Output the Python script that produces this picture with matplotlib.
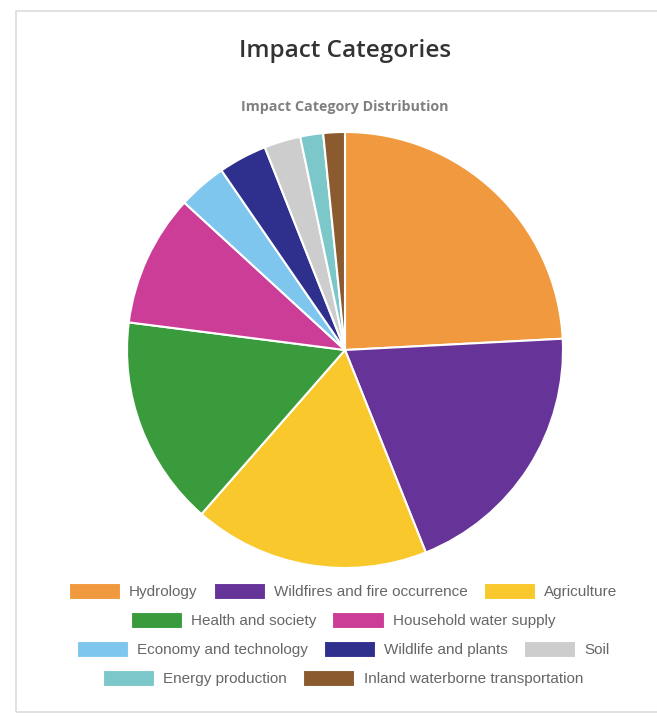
import matplotlib.pyplot as plt
from matplotlib.patches import Rectangle

# impact category shares (percent)
categories = ["Hydrology", "Wildfires and fire occurrence", "Agriculture",
              "Health and society", "Household water supply",
              "Economy and technology", "Wildlife and plants", "Soil",
              "Energy production", "Inland waterborne transportation"]
shares = [24.2, 19.8, 17.5, 15.6, 9.8, 3.6, 3.6, 2.7, 1.7, 1.6]
colors = ["#F0993E", "#663399", "#F8C82C", "#3A9B3C", "#CC3D98",
          "#7FC6EE", "#2F2F8E", "#CDCDCD", "#7CC7C9", "#8B5A2E"]
legend_rows = [[0, 1, 2], [3, 4], [5, 6, 7], [8, 9]]

plt.rcParams['font.family'] = ['Liberation Sans', 'DejaVu Sans']

W, H = 657, 717
fig = plt.figure(figsize=(W / 100, H / 100), dpi=100)

# card border
fig.patches.append(Rectangle((16 / W, 1 - 712 / H), 2, (712 - 11) / H,
                             transform=fig.transFigure, fill=False,
                             edgecolor="#DDDDDD", linewidth=1.2))

fig.text(345 / W, 1 - 51 / H, "Impact Categories", ha="center", va="center",
         fontsize=17.5, fontweight="semibold", color="#333333",
         family=["Open Sans", "DejaVu Sans"])
fig.text(345 / W, 1 - 107 / H, "Impact Category Distribution", ha="center",
         va="center", fontsize=10.3, fontweight="bold", color="#808080",
         family=["Open Sans", "DejaVu Sans"])

cx, cy, r = 345, 350, 218
ax = fig.add_axes([(cx - r) / W, 1 - (cy + r) / H, 2 * r / W, 2 * r / H])
wedges, _ = ax.pie(shares, colors=colors, startangle=90, counterclock=False,
                   wedgeprops=dict(edgecolor="white", linewidth=1.5))
ax.set_xlim(-1.0, 1.0)
ax.set_ylim(-1.0, 1.0)
ax.set_aspect("equal")

row_y = [591, 620, 649, 678]
for row, y in zip(legend_rows, row_y):
    leg = fig.legend([wedges[i] for i in row], [categories[i] for i in row],
                     loc="center", bbox_to_anchor=(343 / W, 1 - y / H),
                     ncol=len(row), frameon=False, fontsize=11,
                     handlelength=3.35, handleheight=1.3, handletextpad=0.6,
                     columnspacing=1.05, borderpad=0, labelcolor="#666666")
    for h in leg.legend_handles:
        h.set_edgecolor("white")
        h.set_linewidth(0.8)

fig.savefig("out.png", dpi=100)
